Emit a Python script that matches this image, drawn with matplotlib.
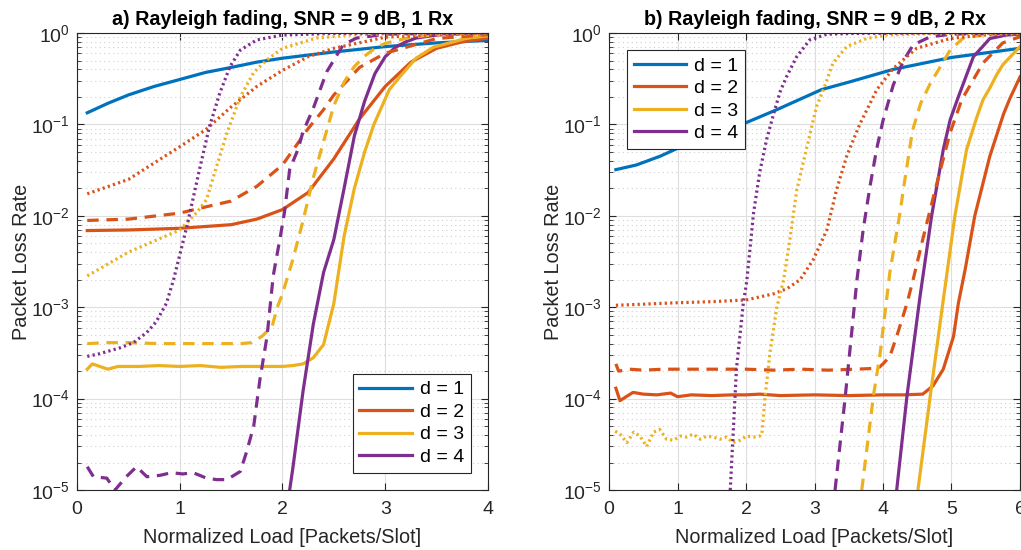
"""Packet loss rate vs normalized load, Rayleigh fading, 1 Rx and 2 Rx."""

import matplotlib
matplotlib.use("Agg")
import matplotlib.pyplot as plt
from matplotlib.ticker import LogLocator, NullFormatter, FixedLocator

plt.rcParams["font.family"] = ["Liberation Sans", "DejaVu Sans"]
plt.rcParams["mathtext.fontset"] = "custom"
plt.rcParams["mathtext.rm"] = "Liberation Sans"

BLUE = "#0072BD"
ORANGE = "#D95319"
YELLOW = "#EDB120"
PURPLE = "#7E2F8E"

# ---- a) 1 Rx ----
a_d1_x = [0.1, 0.3, 0.5, 0.75, 1.0, 1.25, 1.5, 1.75, 2.0, 2.5, 3.0, 3.5, 4.0]
a_d1_y = [0.134, 0.17, 0.21, 0.26, 0.31, 0.37, 0.42, 0.48, 0.53, 0.62, 0.71, 0.78, 0.83]

a_d2_x = [0.1, 0.5, 1.0, 1.5, 1.75, 2.0, 2.25, 2.5, 2.75, 3.0, 3.25, 3.5, 3.75, 4.0]
a_d2_y = [0.0069, 0.007, 0.0073, 0.008, 0.0092, 0.0117, 0.018, 0.042, 0.115, 0.26, 0.48, 0.68, 0.8, 0.88]
a_d2_dash_x = [0.1, 0.5, 1.0, 1.25, 1.5, 1.75, 2.0, 2.25, 2.4, 2.5, 2.75, 3.0, 3.5, 4.0]
a_d2_dash_y = [0.0089, 0.0092, 0.0107, 0.0125, 0.0145, 0.021, 0.036, 0.09, 0.145, 0.21, 0.42, 0.6, 0.87, 0.96]
a_d2_dot_x = [0.1, 0.5, 1.0, 1.25, 1.5, 1.75, 2.0, 2.25, 2.5, 3.0, 3.5, 4.0]
a_d2_dot_y = [0.0174, 0.025, 0.057, 0.087, 0.155, 0.26, 0.39, 0.55, 0.68, 0.9, 0.96, 0.98]

a_d3_x = [0.1, 0.15, 0.3, 0.4, 0.6, 0.8, 1.0, 1.2, 1.4, 1.6, 1.8, 2.0, 2.1, 2.2,
          2.3, 2.4, 2.5, 2.6, 2.7, 2.8, 2.89, 3.04, 3.14, 3.3, 3.47, 3.8, 4.0]
a_d3_y = [2.1e-4, 2.4e-4, 2.1e-4, 2.25e-4, 2.25e-4, 2.3e-4, 2.25e-4, 2.3e-4, 2.2e-4,
          2.25e-4, 2.25e-4, 2.25e-4, 2.3e-4, 2.4e-4, 2.8e-4, 3.9e-4, 1.1e-3, 6e-3,
          0.02, 0.05, 0.1, 0.24, 0.33, 0.53, 0.7, 0.88, 0.93]
a_d3_dash_x = [0.1, 0.3, 0.5, 0.8, 1.0, 1.2, 1.4, 1.6, 1.7, 1.8, 1.9, 1.95, 2.0, 2.1,
               2.2, 2.3, 2.4, 2.5, 2.6, 2.7, 2.8, 2.9, 3.0, 3.25, 3.5, 4.0]
a_d3_dash_y = [4.0e-4, 4.1e-4, 4.1e-4, 4.0e-4, 4.0e-4, 4.0e-4, 4.0e-4, 4.0e-4, 4.1e-4,
               4.8e-4, 6.2e-4, 1.0e-3, 1.4e-3, 3.3e-3, 8.8e-3, 0.026, 0.065, 0.16,
               0.29, 0.43, 0.56, 0.68, 0.77, 0.9, 0.96, 0.99]
a_d3_dot_x = [0.1, 0.5, 1.0, 1.17, 1.26, 1.36, 1.46, 1.59, 1.72, 1.85, 2.0, 2.33, 2.66, 3.0, 4.0]
a_d3_dot_y = [2.2e-3, 4e-3, 7e-3, 0.011, 0.015, 0.035, 0.081, 0.2, 0.37, 0.51, 0.68, 0.88, 0.95, 0.98, 0.99]

a_d4_x = [2.07, 2.1, 2.2, 2.3, 2.4, 2.5, 2.6, 2.7, 2.8, 2.9, 3.0, 3.1, 3.2, 3.3, 3.5, 3.7, 4.0]
a_d4_y = [1e-5, 1.7e-5, 1.2e-4, 6.5e-4, 2.4e-3, 5.5e-3, 0.02, 0.075, 0.18, 0.36, 0.55,
          0.7, 0.8, 0.88, 0.95, 0.98, 0.995]
a_d4_dash_x = [0.1, 0.16, 0.29, 0.37, 0.48, 0.58, 0.68, 0.81, 0.92, 1.03, 1.13, 1.26,
               1.36, 1.46, 1.59, 1.65, 1.72, 1.78, 1.85, 1.91, 1.98, 2.02, 2.07, 2.15,
               2.2, 2.3, 2.43, 2.59, 2.72, 3.0, 3.5, 4.0]
a_d4_dash_y = [1.8e-5, 1.4e-5, 1.35e-5, 1e-5, 1.4e-5, 1.8e-5, 1.4e-5, 1.45e-5, 1.55e-5,
               1.5e-5, 1.55e-5, 1.35e-5, 1.3e-5, 1.3e-5, 1.6e-5, 2.6e-5, 5e-5, 1.6e-4,
               4.8e-4, 2.2e-3, 6e-3, 0.011, 0.032, 0.053, 0.083, 0.15, 0.375, 0.74,
               0.88, 0.97, 0.99, 1.0]
a_d4_dot_x = [0.1, 0.22, 0.42, 0.55, 0.68, 0.77, 0.87, 0.94, 1.07, 1.2, 1.29, 1.39,
              1.49, 1.59, 1.75, 2.0, 2.5, 3.0, 4.0]
a_d4_dot_y = [2.9e-4, 3.1e-4, 3.6e-4, 4.1e-4, 5.3e-4, 6.9e-4, 1.1e-3, 2.0e-3, 7.7e-3,
              0.035, 0.095, 0.22, 0.43, 0.65, 0.84, 0.95, 0.99, 1.0, 1.0]

# ---- b) 2 Rx ----
b_d1_x = [0.1, 0.4, 0.75, 1.05, 1.4, 1.9, 2.45, 3.1, 3.5, 4.15, 5.0, 6.0]
b_d1_y = [0.032, 0.036, 0.045, 0.057, 0.072, 0.097, 0.145, 0.24, 0.29, 0.4, 0.54, 0.68]

b_d2_x = [0.1, 0.16, 0.25, 0.35, 0.5, 0.7, 0.9, 1.0, 1.2, 1.5, 1.8, 2.0, 2.2, 2.5,
          3.0, 3.5, 4.0, 4.3, 4.58, 4.73, 4.88, 5.03, 5.1, 5.2, 5.34, 5.56, 5.76, 5.85, 6.0]
b_d2_y = [1.3e-4, 9.5e-5, 1.05e-4, 1.17e-4, 1.12e-4, 1.1e-4, 1.15e-4, 1.05e-4, 1.1e-4,
          1.08e-4, 1.1e-4, 1.1e-4, 1.12e-4, 1.08e-4, 1.1e-4, 1.08e-4, 1.1e-4, 1.1e-4,
          1.12e-4, 1.38e-4, 2.1e-4, 4.8e-4, 1.1e-3, 2.6e-3, 0.01, 0.045, 0.13, 0.19, 0.33]
b_d2_dash_x = [0.1, 0.14, 0.3, 0.5, 0.8, 1.2, 1.6, 2.0, 2.4, 2.8, 3.2, 3.6, 3.93, 4.0,
               4.1, 4.2, 4.35, 4.44, 4.58, 4.76, 4.98, 5.15, 5.46, 5.75, 6.0]
b_d2_dash_y = [2.4e-4, 2.0e-4, 2.1e-4, 2.05e-4, 2.1e-4, 2.1e-4, 2.1e-4, 2.1e-4, 2.05e-4,
               2.1e-4, 2.05e-4, 2.1e-4, 2.15e-4, 2.4e-4, 2.9e-4, 4.8e-4, 1.1e-3, 2.0e-3,
               5.5e-3, 0.019, 0.081, 0.186, 0.47, 0.78, 0.91]
b_d2_dot_x = [0.1, 0.5, 1.0, 1.5, 2.0, 2.4, 2.6, 2.79, 2.98, 3.18, 3.32, 3.47, 3.66,
              3.91, 4.15, 4.49, 4.98, 5.46, 6.0]
b_d2_dot_y = [1.05e-3, 1.08e-3, 1.12e-3, 1.15e-3, 1.2e-3, 1.4e-3, 1.6e-3, 2.0e-3, 3.3e-3,
              7e-3, 0.019, 0.045, 0.1, 0.24, 0.41, 0.68, 0.87, 0.95, 0.98]

b_d3_x = [4.51, 4.69, 4.88, 5.05, 5.22, 5.37, 5.46, 5.56, 5.66, 5.75, 6.0]
b_d3_y = [1e-5, 1.07e-4, 1.2e-3, 0.01, 0.053, 0.12, 0.186, 0.25, 0.35, 0.45, 0.71]
b_d3_dash_x = [3.69, 3.86, 3.96, 4.1, 4.25, 4.3, 4.43, 4.55, 4.69, 4.83, 4.98, 5.17, 5.5, 6.0]
b_d3_dash_y = [1e-5, 1.07e-4, 3.2e-4, 2.4e-3, 0.011, 0.02, 0.085, 0.17, 0.28, 0.42,
               0.65, 0.88, 0.96, 0.99]
b_d3_dot_x = [0.09, 0.16, 0.26, 0.36, 0.45, 0.55, 0.65, 0.74, 0.84, 0.94, 1.04, 1.13,
              1.23, 1.33, 1.43, 1.52, 1.62, 1.72, 1.81, 1.91, 2.01, 2.11, 2.2, 2.23,
              2.28, 2.35, 2.45, 2.55, 2.64, 2.74, 2.89, 3.03, 3.13, 3.27, 3.47, 3.76,
              4.05, 4.6, 6.0]
b_d3_dot_y = [4.4e-5, 4.1e-5, 3.3e-5, 4.3e-5, 3.9e-5, 3.0e-5, 4.3e-5, 4.6e-5, 3.6e-5,
              3.5e-5, 3.9e-5, 3.8e-5, 4.1e-5, 3.6e-5, 3.9e-5, 3.8e-5, 3.6e-5, 3.8e-5,
              3.3e-5, 3.5e-5, 3.9e-5, 3.8e-5, 3.9e-5, 4e-5, 1.07e-4, 3.2e-4, 1e-3,
              2.0e-3, 5.5e-3, 0.019, 0.057, 0.157, 0.24, 0.47, 0.71, 0.87, 0.95, 0.98, 0.99]

b_d4_x = [4.2, 4.35, 4.54, 4.71, 4.88, 4.98, 5.1, 5.32, 5.56, 5.8, 6.0]
b_d4_y = [1e-5, 1.07e-4, 1.3e-3, 0.01, 0.053, 0.112, 0.2, 0.55, 0.87, 0.95, 0.97]
b_d4_dash_x = [3.3, 3.45, 3.62, 3.71, 3.81, 3.91, 4.0, 4.15, 4.3, 4.44, 4.69, 5.0, 5.5, 6.0]
b_d4_dash_y = [1e-5, 1.07e-4, 2e-3, 7e-3, 0.021, 0.055, 0.11, 0.27, 0.5, 0.74, 0.91,
               0.97, 0.99, 1.0]
b_d4_dot_x = [1.77, 1.86, 1.96, 2.01, 2.11, 2.2, 2.3, 2.42, 2.5, 2.59, 2.74, 2.93, 3.18, 3.6, 4.5, 6.0]
b_d4_dot_y = [1e-5, 2.1e-4, 1.1e-3, 1.9e-3, 0.0107, 0.03, 0.068, 0.145, 0.23, 0.33,
              0.55, 0.84, 0.97, 0.99, 1.0, 1.0]

legend_labels = ["d = 1", "d = 2", "d = 3", "d = 4"]
LW = 2.3
DASH = (0, (3.6, 2.4))
DOT = (0, (0.7, 1.0))


def style_axes(ax, xmax, title):
    ax.set_yscale("log")
    ax.set_xlim(0, xmax)
    ax.set_ylim(1e-5, 1)
    ax.xaxis.set_major_locator(FixedLocator(range(0, xmax + 1)))
    ax.yaxis.set_major_locator(LogLocator(base=10, numticks=10))
    ax.yaxis.set_minor_locator(LogLocator(base=10, subs=range(2, 10), numticks=20))
    ax.yaxis.set_minor_formatter(NullFormatter())
    ax.grid(True, which="major", color="#dedede", linewidth=0.8)
    ax.grid(True, which="minor", axis="y", color="#d0d0d0", linestyle=(0, (1, 3)), linewidth=0.8)
    ax.set_axisbelow(True)
    ax.tick_params(which="both", direction="in", top=True, right=True, colors="#262626",
                   labelsize=14)
    ax.tick_params(which="major", length=5)
    ax.tick_params(axis="x", which="major", pad=8)
    ax.tick_params(axis="y", which="major", pad=5)
    ax.tick_params(which="minor", length=3)
    for spine in ax.spines.values():
        spine.set_color("#262626")
        spine.set_linewidth(0.8)
    ax.set_xlabel("Normalized Load [Packets/Slot]", fontsize=14.3, color="#262626", labelpad=7)
    ax.set_ylabel("Packet Loss Rate", fontsize=14.3, color="#262626", labelpad=0)
    ax.set_title(title, fontsize=14.2, fontweight="bold", pad=6)


def add_legend(ax, loc, anchor):
    leg = ax.legend(loc=loc, bbox_to_anchor=anchor, fontsize=14, handlelength=2.7,
                    borderpad=0.35, labelspacing=0.25, handletextpad=0.4,
                    fancybox=False, framealpha=1, edgecolor="#262626", borderaxespad=0)
    leg.get_frame().set_linewidth(0.8)


fig = plt.figure(figsize=(10.21, 5.5), dpi=100)
ax_a = fig.add_axes([0.0754, 0.109, 0.4025, 0.831])
ax_b = fig.add_axes([0.5965, 0.109, 0.4025, 0.831])

# panel a
ax_a.plot(a_d1_x, a_d1_y, color=BLUE, lw=LW, label=legend_labels[0])
ax_a.plot(a_d2_x, a_d2_y, color=ORANGE, lw=LW, label=legend_labels[1])
ax_a.plot(a_d3_x, a_d3_y, color=YELLOW, lw=LW, label=legend_labels[2])
ax_a.plot(a_d4_x, a_d4_y, color=PURPLE, lw=LW, label=legend_labels[3])
ax_a.plot(a_d2_dash_x, a_d2_dash_y, color=ORANGE, lw=LW, ls=DASH)
ax_a.plot(a_d3_dash_x, a_d3_dash_y, color=YELLOW, lw=LW, ls=DASH)
ax_a.plot(a_d4_dash_x, a_d4_dash_y, color=PURPLE, lw=LW, ls=DASH)
ax_a.plot(a_d2_dot_x, a_d2_dot_y, color=ORANGE, lw=LW, ls=DOT)
ax_a.plot(a_d3_dot_x, a_d3_dot_y, color=YELLOW, lw=LW, ls=DOT)
ax_a.plot(a_d4_dot_x, a_d4_dot_y, color=PURPLE, lw=LW, ls=DOT)
style_axes(ax_a, 4, "a) Rayleigh fading, SNR = 9 dB, 1 Rx")
add_legend(ax_a, "lower right", (0.958, 0.038))

# panel b
ax_b.plot(b_d1_x, b_d1_y, color=BLUE, lw=LW, label=legend_labels[0])
ax_b.plot(b_d2_x, b_d2_y, color=ORANGE, lw=LW, label=legend_labels[1])
ax_b.plot(b_d3_x, b_d3_y, color=YELLOW, lw=LW, label=legend_labels[2])
ax_b.plot(b_d4_x, b_d4_y, color=PURPLE, lw=LW, label=legend_labels[3])
ax_b.plot(b_d2_dash_x, b_d2_dash_y, color=ORANGE, lw=LW, ls=DASH)
ax_b.plot(b_d3_dash_x, b_d3_dash_y, color=YELLOW, lw=LW, ls=DASH)
ax_b.plot(b_d4_dash_x, b_d4_dash_y, color=PURPLE, lw=LW, ls=DASH)
ax_b.plot(b_d2_dot_x, b_d2_dot_y, color=ORANGE, lw=LW, ls=DOT)
ax_b.plot(b_d3_dot_x, b_d3_dot_y, color=YELLOW, lw=LW, ls=DOT)
ax_b.plot(b_d4_dot_x, b_d4_dot_y, color=PURPLE, lw=LW, ls=DOT)
style_axes(ax_b, 6, "b) Rayleigh fading, SNR = 9 dB, 2 Rx")
add_legend(ax_b, "upper left", (0.044, 0.962))

fig.savefig("out.png", dpi=100)
